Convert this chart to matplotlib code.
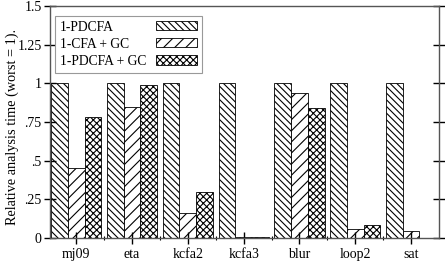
import matplotlib
matplotlib.use("Agg")
import matplotlib.pyplot as plt
import numpy as np

categories = ["mj09", "eta", "kcfa2", "kcfa3", "blur", "loop2", "sat"]
series_names = ["1-PDCFA", "1-CFA + GC", "1-PDCFA + GC"]
pdcfa = [1.0, 1.0, 1.0, 1.0, 1.0, 1.0, 1.0]
cfa_gc = [0.45, 0.85, 0.16, 0.005, 0.94, 0.055, 0.045]
pdcfa_gc = [0.78, 0.99, 0.30, 0.005, 0.84, 0.087, 0.0]
ytick_vals = [0, 0.25, 0.5, 0.75, 1.0, 1.25, 1.5]
ytick_labels = ["0", ".25", ".5", ".75", "1", "1.25", "1.5"]

plt.rcParams['font.family'] = ['Liberation Serif', 'DejaVu Serif']
plt.rcParams['hatch.linewidth'] = 0.8

fig = plt.figure(figsize=(4.45, 2.78), dpi=100)
ax = fig.add_axes([0.1124, 0.1439, 0.8741, 0.8345])

x = np.arange(len(categories))
w = 0.3
hatches = ["\\\\\\\\\\", "///", "xxxxx"]
data = [pdcfa, cfa_gc, pdcfa_gc]
for i, (vals, name, h) in enumerate(zip(data, series_names, hatches)):
    ax.bar(x + (i - 1) * w, vals, width=w, color="white", edgecolor="black",
           linewidth=0.6, hatch=h, label=name)

ax.set_xlim(-0.47, 6.5)
ax.set_ylim(0, 1.5)
ax.set_yticks(ytick_vals)
ax.set_yticklabels(ytick_labels)
ax.set_xticks(x)
ax.set_xticklabels(categories)
ax.set_xticks(x[:-1] + 0.5, minor=True)
ax.tick_params(axis='y', which='both', direction='inout', length=8, width=1,
               left=True, right=True, labelsize=10, colors='black', pad=2)
ax.tick_params(axis='x', which='major', direction='inout', length=8, width=1,
               top=False, labelsize=10, pad=3)
ax.tick_params(axis='x', which='minor', direction='inout', length=3, width=0.8,
               top=False)
for s in ax.spines.values():
    s.set_color('#555555')
    s.set_linewidth(1.0)

ax.set_ylabel("Relative analysis time (worst = 1).", fontsize=10.3)
ax.yaxis.set_label_coords(-0.08, 0.48)

leg = ax.legend(loc='upper left', bbox_to_anchor=(0.003, 0.975), fontsize=9.8,
                markerfirst=False, fancybox=False, edgecolor='#999999',
                framealpha=1, handlelength=3.0, handleheight=0.65,
                handletextpad=0.7, labelspacing=0.3, borderpad=0.35,
                borderaxespad=0.3)
leg.get_frame().set_linewidth(0.8)

# left-align legend texts while keeping samples aligned on the right
fig.canvas.draw()
renderer = fig.canvas.get_renderer()
widths = [t.get_window_extent(renderer).width for t in leg.texts]
maxw = max(widths)
ptpx = renderer.points_to_pixels(1.0)
for col in leg._legend_handle_box.get_children():
    for row in col.get_children():
        txt = row.get_children()[0]
        if hasattr(txt, "_text"):
            tw = txt._text.get_window_extent(renderer).width
            row.sep = row.sep + (maxw - tw) / ptpx

fig.savefig("out.png", dpi=100)
